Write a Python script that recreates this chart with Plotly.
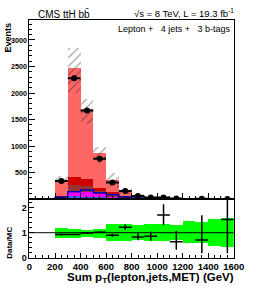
import plotly.graph_objects as go

# ---------------- data ----------------
bin_centers = [250, 350, 450, 550, 650, 750, 850, 950, 1050, 1150, 1250, 1350, 1450, 1550]
bin_width = 100

# stacked MC components (bottom -> top)
mc_blue    = [8, 60, 48, 35, 19, 10, 5, 3, 1.5, 0.8, 0.5, 0.3, 0.2, 0.2]
mc_magenta = [3, 80, 80, 63, 19, 10, 4, 2, 1, 0.5, 0.3, 0.3, 0.1, 0.1]
mc_brown   = [5, 125, 118, 61, 44, 20, 8, 4, 2, 1, 0.5, 0.4, 0.2, 0.1]
mc_darkred = [40, 153, 141, 50, 44, 20, 8, 4, 2, 1.5, 1, 0.5, 0.3, 0.2]
mc_ltred   = [312, 2057, 1303, 651, 229, 100, 45, 22, 10.5, 8.2, 4.7, 4.5, 2.2, 1.4]

signal_edges = [0, 200, 300, 400, 500, 600, 700, 800, 900, 1000, 1100, 1200, 1300, 1400, 1500, 1600]
signal_vals  = [0, 35, 140, 170, 122, 80, 40, 20, 10, 5, 3, 2, 1, 1, 0.5, 0.5]

data_x    = [250, 350, 450, 550, 650, 750, 850, 950, 1050, 1150, 1350, 1550]
data_y    = [340, 2280, 1670, 760, 315, 155, 60, 32, 28, 12, 5, 3]
data_err  = [18, 48, 41, 28, 18, 12, 8, 6, 5, 3.5, 2.2, 1.7]

band_hi = [1.18, 1.15, 1.12, 1.15, 1.36, 1.36, 1.31, 1.36, 1.36, 1.31, 1.46, 1.44, 1.53, 1.57]
band_lo = [0.79, 0.81, 0.84, 0.80, 0.66, 0.66, 0.71, 0.66, 0.66, 0.71, 0.58, 0.60, 0.49, 0.45]

ratio_x    = [250, 350, 450, 550, 650, 750, 850, 950, 1050, 1150, 1350, 1550]
ratio_y    = [0.93, 0.93, 0.99, 1.02, 0.90, 1.22, 0.83, 0.86, 1.70, 0.64, 0.71, 1.52]
ratio_up   = [0.04, 0.03, 0.03, 0.04, 0.06, 0.11, 0.15, 0.19, 0.43, 0.43, 0.98, 1.2]
ratio_down = [0.04, 0.03, 0.03, 0.04, 0.06, 0.11, 0.13, 0.18, 0.40, 0.31, 0.52, 1.33]

x_ticks = [0, 200, 400, 600, 800, 1000, 1200, 1400, 1600]
y_ticks_top = [500, 1000, 1500, 2000, 2500, 3000]
y_ticks_ratio = [0, 1, 2]

# ---------------- figure ----------------
W, H = 258, 290
fig = go.Figure()

components = [
    (mc_blue, "#3a5fe0"),
    (mc_magenta, "#ff00ff"),
    (mc_brown, "#993333"),
    (mc_darkred, "#cc0000"),
    (mc_ltred, "#ff6666"),
]
base = [0.0] * len(bin_centers)
for vals, col in components:
    fig.add_trace(go.Bar(x=bin_centers, y=vals, base=list(base), width=bin_width,
                         marker=dict(color=col, line=dict(width=0)),
                         xaxis="x", yaxis="y", showlegend=False, hoverinfo="skip"))
    base = [b + v for b, v in zip(base, vals)]
total = base

# hatched uncertainty
fig.add_trace(go.Bar(x=bin_centers,
                     y=[t * (h - l) for t, h, l in zip(total, band_hi, band_lo)],
                     base=[t * l for t, l in zip(total, band_lo)], width=bin_width,
                     marker=dict(color="rgba(0,0,0,0)", line=dict(width=0),
                                 pattern=dict(shape="/", fgcolor="#222222", bgcolor="rgba(0,0,0,0)",
                                              size=6, solidity=0.18, fillmode="overlay")),
                     xaxis="x", yaxis="y", showlegend=False, hoverinfo="skip"))

# signal line
fig.add_trace(go.Scatter(x=signal_edges, y=signal_vals, mode="lines", line_shape="hv",
                         line=dict(color="#0000cc", width=1.5), xaxis="x", yaxis="y",
                         showlegend=False, hoverinfo="skip"))

# data
fig.add_trace(go.Scatter(x=data_x, y=data_y, mode="markers",
                         marker=dict(color="black", size=6),
                         error_y=dict(type="data", array=data_err, color="black", thickness=2, width=0),
                         error_x=dict(type="constant", value=bin_width / 2, color="black", thickness=2, width=0),
                         xaxis="x", yaxis="y", showlegend=False, hoverinfo="skip"))

# ratio band
fig.add_trace(go.Bar(x=bin_centers, y=[h - l for h, l in zip(band_hi, band_lo)], base=band_lo,
                     width=bin_width, marker=dict(color="#00ff00", line=dict(width=0)),
                     xaxis="x2", yaxis="y2", showlegend=False, hoverinfo="skip"))
fig.add_trace(go.Scatter(x=[0, 1600], y=[1, 1], mode="lines", line=dict(color="black", width=1),
                         xaxis="x2", yaxis="y2", showlegend=False, hoverinfo="skip"))
fig.add_trace(go.Scatter(x=ratio_x, y=ratio_y, mode="markers",
                         marker=dict(color="black", size=1),
                         error_y=dict(type="data", array=ratio_up, arrayminus=ratio_down,
                                      color="black", thickness=1.5, width=0),
                         error_x=dict(type="constant", value=bin_width / 2, color="black", thickness=1.5, width=0),
                         xaxis="x2", yaxis="y2", showlegend=False, hoverinfo="skip"))

xd = [28 / W, 244 / W]
top_dom = [(H - 202.6) / H, (H - 20.7) / H]
bot_dom = [(H - 262.5) / H, (H - 202.6) / H]
font_family = "Liberation Sans, Arial, sans-serif"

common_axis = dict(showline=True, linecolor="black", linewidth=1, mirror=True,
                   showgrid=False, zeroline=False, ticks="inside", tickcolor="black")

fig.update_layout(
    width=W, height=H, margin=dict(l=0, r=0, t=0, b=0),
    paper_bgcolor="white", plot_bgcolor="white",
    barmode="overlay", bargap=0, hovermode=False,
    font=dict(family=font_family, color="black"),
    xaxis=dict(domain=xd, range=[0, 1600], anchor="y", showticklabels=False,
               tickvals=x_ticks, ticklen=6,
               minor=dict(dtick=50, ticklen=3, ticks="inside", tickcolor="black"),
               **common_axis),
    yaxis=dict(domain=top_dom, range=[0, 3370], anchor="x", tickvals=y_ticks_top,
               ticklen=6, tickfont=dict(size=7.2, weight="bold"),
               minor=dict(dtick=100, ticklen=3, ticks="inside", tickcolor="black"),
               **common_axis),
    xaxis2=dict(domain=xd, range=[0, 1600], anchor="y2", tickvals=x_ticks, ticklen=5,
                tickfont=dict(size=9.5, weight="bold"),
                minor=dict(dtick=50, ticklen=3, ticks="inside", tickcolor="black"),
                **common_axis),
    yaxis2=dict(domain=bot_dom, range=[0, 2.33], anchor="x2", tickvals=y_ticks_ratio,
                ticklen=5, tickfont=dict(size=9, weight="bold"),
                minor=dict(dtick=0.2, ticklen=3, ticks="inside", tickcolor="black"),
                **common_axis),
)

ann = []
ann.append(dict(text="Events", x=5.5 / W, y=(H - 20.7) / H, xref="paper", yref="paper",
                xanchor="center", yanchor="top", textangle=-90, showarrow=False,
                font=dict(size=9, weight="bold")))
ann.append(dict(text="Data/MC", x=7.5 / W, y=(H - 247) / H, xref="paper", yref="paper",
                xanchor="center", yanchor="middle", textangle=-90, showarrow=False,
                font=dict(size=8, weight="bold")))
ann.append(dict(text="Sum p<sub>T</sub>(lepton,jets,MET) (GeV)", x=246 / W, y=(H - 283) / H,
                xref="paper", yref="paper", xanchor="right", yanchor="middle", showarrow=False,
                font=dict(size=11.5, weight="bold")))
ann.append(dict(text="CMS ttH bb\u0304", x=35 / W, y=(H - 14) / H, align="left",
                xref="paper", yref="paper", xanchor="left", yanchor="middle", showarrow=False,
                font=dict(size=10)))
ann.append(dict(text="\u221as = 8 TeV, L = 19.3 fb<sup>-1</sup>", x=246 / W, y=(H - 13) / H,
                xref="paper", yref="paper", xanchor="right", yanchor="middle", showarrow=False,
                font=dict(size=9.5)))
ann.append(dict(text="Lepton +\u00a0\u00a0 4 jets +\u00a0\u00a0 3 b-tags", x=243 / W, y=(H - 29.5) / H,
                xref="paper", yref="paper", xanchor="right", yanchor="middle", showarrow=False,
                font=dict(size=9)))
fig.update_layout(annotations=ann)

fig.write_html("out.html", config={"displayModeBar": False, "staticPlot": True},
               post_script="document.body.style.margin='0';document.body.style.padding='0';document.body.style.overflow='hidden';")
